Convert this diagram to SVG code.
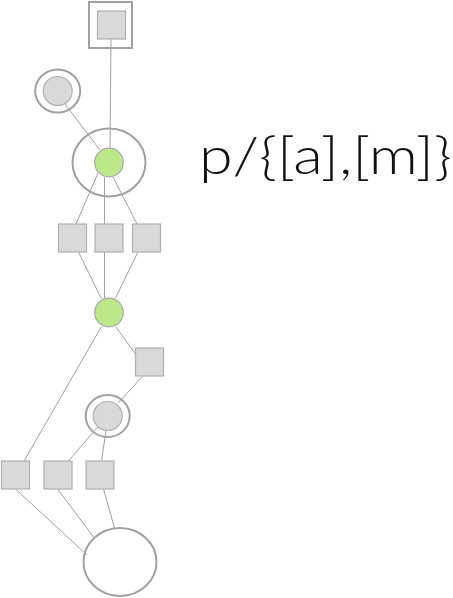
<svg xmlns="http://www.w3.org/2000/svg" width="453" height="598" viewBox="0 0 453 598">
<style>
.e{stroke:#a0a0a0;stroke-width:1;fill:none}
.o{fill:none;stroke:#a0a0a0;stroke-width:2}
.g{fill:#d9d9d9;stroke:#b0b0b0;stroke-width:1.2}
.v{fill:#bce88a;stroke:#a8a8a8;stroke-width:1.2}
.t{font-family:"Lato","DejaVu Sans",sans-serif;font-weight:300;font-size:52px;fill:#111}
</style>
<rect width="453" height="598" fill="#fff"/>
<g id="edges">
<line class="e" x1="111" y1="39" x2="110" y2="148"/>
<line class="e" x1="65" y1="104" x2="100" y2="150"/>
<line class="e" x1="98" y1="173" x2="76" y2="224"/>
<line class="e" x1="104.5" y1="177" x2="104.5" y2="224"/>
<line class="e" x1="113" y1="177" x2="137" y2="224"/>
<line class="e" x1="78.5" y1="252" x2="101.5" y2="299"/>
<line class="e" x1="104.5" y1="252" x2="104.5" y2="298"/>
<line class="e" x1="138" y1="252" x2="115.5" y2="298"/>
<line class="e" x1="101.5" y1="326.5" x2="24" y2="461"/>
<line class="e" x1="116" y1="327" x2="135.5" y2="354"/>
<line class="e" x1="142" y1="377" x2="118" y2="403"/>
<line class="e" x1="97.5" y1="427" x2="68.5" y2="461"/>
<line class="e" x1="106" y1="431" x2="101.5" y2="461"/>
<line class="e" x1="15.5" y1="489" x2="87" y2="555"/>
<line class="e" x1="57.5" y1="489" x2="93.5" y2="537"/>
<line class="e" x1="103.5" y1="489" x2="114.5" y2="528"/>
</g>
<g id="n1"><rect class="o" x="89" y="2" width="43" height="46"/><rect class="g" x="97.5" y="11" width="28" height="28"/></g>
<g id="n2"><ellipse class="o" cx="57.7" cy="91" rx="22.5" ry="21.5"/><circle class="g" cx="57.7" cy="91" r="14.5"/></g>
<g id="n3"><ellipse class="o" cx="109" cy="162.5" rx="36.5" ry="34"/><circle class="v" cx="109" cy="162.5" r="14.3"/></g>
<g id="n4"><rect class="g" x="58.5" y="224" width="28" height="28"/></g>
<g id="n5"><rect class="g" x="95" y="224" width="28" height="28"/></g>
<g id="n6"><rect class="g" x="132.5" y="224" width="28" height="28"/></g>
<g id="n7"><circle class="v" cx="109" cy="312.5" r="14.3"/></g>
<g id="n8"><rect class="g" x="135.5" y="348" width="28" height="28"/></g>
<g id="n9"><ellipse class="o" cx="107.7" cy="416" rx="22" ry="21"/><circle class="g" cx="107.7" cy="416" r="14.5"/></g>
<g id="n10"><rect class="g" x="1.5" y="461" width="28" height="28"/></g>
<g id="n11"><rect class="g" x="44" y="461" width="28" height="28"/></g>
<g id="n12"><rect class="g" x="86" y="461" width="28" height="28"/></g>
<g id="n13"><ellipse class="o" cx="120" cy="562" rx="36.5" ry="34"/></g>
<text class="t" x="199" y="174" textLength="253" lengthAdjust="spacingAndGlyphs">p/{[a],[m]}</text>
</svg>
